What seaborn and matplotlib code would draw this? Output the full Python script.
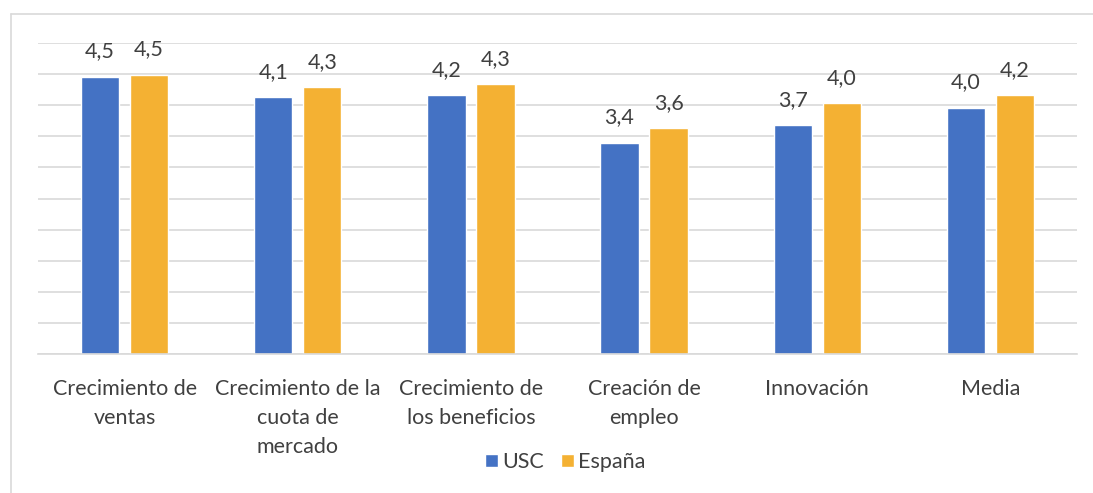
import matplotlib.pyplot as plt
import matplotlib.lines as mlines
import seaborn as sns
import pandas as pd

categorias = ["Crecimiento de\nventas", "Crecimiento de la\ncuota de\nmercado",
              "Crecimiento de\nlos beneficios", "Creación de\nempleo", "Innovación", "Media"]
usc = [4.46, 4.13, 4.16, 3.40, 3.68, 3.96]
espana = [4.49, 4.29, 4.34, 3.63, 4.03, 4.16]
series = ["USC", "España"]
colores = ["#4472C4", "#F4B133"]

df = pd.DataFrame({
    "categoria": categorias * 2,
    "valor": usc + espana,
    "serie": [series[0]] * len(usc) + [series[1]] * len(espana),
})

sns.set_theme(style="white")
plt.rcParams["font.family"] = ["Lato", "DejaVu Sans"]
texto = "#404040"
fs = 15.5

fig = plt.figure(figsize=(10.93, 4.93), dpi=100)
ax = fig.add_axes([38 / 1093, 1 - 354 / 493, (1077 - 38) / 1093, (354 - 43) / 493])

sns.barplot(data=df, x="categoria", y="valor", hue="serie", palette=colores,
            width=0.567, gap=0.22, ax=ax, legend=True, saturation=1)

ax.set_ylim(0, 5)
ax.set_xlim(-0.5, len(categorias) - 0.5)
ax.set_yticks([i * 0.5 for i in range(11)])
ax.yaxis.grid(True, color="#d9d9d9", linewidth=1.2)
ax.set_axisbelow(True)
ax.tick_params(axis="y", left=False, labelleft=False)
ax.tick_params(axis="x", bottom=False, labelsize=fs, labelcolor=texto, pad=12)
for s in ["top", "right", "left"]:
    ax.spines[s].set_visible(False)
ax.spines["bottom"].set_color("#d9d9d9")
ax.spines["bottom"].set_linewidth(1.2)
ax.set_xlabel("")
ax.set_ylabel("")
for lbl in ax.get_xticklabels():
    lbl.set_verticalalignment("top")
    lbl.set_linespacing(1.55)

for cont in ax.containers:
    ax.bar_label(cont, labels=[f"{v:.1f}".replace(".", ",") for v in cont.datavalues],
                 padding=11, fontsize=fs, color=texto)

ax.legend(loc="center", bbox_to_anchor=(565 / 1093, 1 - 462 / 493),
          bbox_transform=fig.transFigure, ncol=2, frameon=False,
          fontsize=fs, labelcolor=texto, handlelength=0.6, handleheight=0.6,
          handletextpad=0.2, columnspacing=0.8)

# marco del gráfico
fig.add_artist(mlines.Line2D([11 / 1093, 1], [1 - 14 / 493] * 2, color="#d9d9d9", lw=1.2))
fig.add_artist(mlines.Line2D([11 / 1093] * 2, [0, 1 - 14 / 493], color="#d9d9d9", lw=1.2))

fig.savefig("out.png", dpi=100)
